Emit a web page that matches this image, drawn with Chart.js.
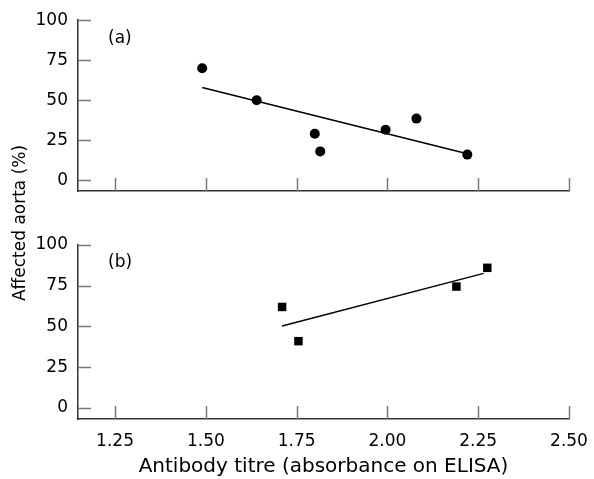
<!DOCTYPE html>
<html>
<head>
<meta charset="utf-8">
<script src="https://cdn.jsdelivr.net/npm/chart.js@4.4.1/dist/chart.umd.min.js"></script>
<style>
  html, body { margin: 0; padding: 0; background: #fff; }
  #wrap { position: relative; width: 594px; height: 479px; }
  #wrap canvas { position: absolute; left: 0; top: 0; }
</style>
</head>
<body>
<div id="wrap">
  <canvas id="chartA" width="594" height="479"></canvas>
  <canvas id="chartB" width="594" height="479"></canvas>
</div>
<script>
// Antibody titre vs affected aorta, two stacked panels

// --- Data ---
const titreA = [1.49, 1.64, 1.80, 1.815, 1.995, 2.08, 2.22];
const aortaA = [70, 50, 29, 18, 31.5, 38.5, 16];
const fitXA = [1.49, 2.22];
const fitYA = [58, 16.5];

const titreB = [1.71, 1.755, 2.19, 2.275];
const aortaB = [62, 41, 74.5, 86];
const fitXB = [1.71, 2.265];
const fitYB = [50.3, 82.6];

const xTicks = [1.25, 1.50, 1.75, 2.00, 2.25, 2.50];
const yTicks = [0, 25, 50, 75, 100];

const FONT = 'DejaVu Sans';
const axisColor = '#333';
const tickColor = '#777';
const textColor = '#000';

function pts(xs, ys) {
    return xs.map(function (x, i) { return { x: x, y: ys[i] }; });
}

// inward tick marks on both axes + panel label
function decorPlugin(label) {
    return {
        id: 'decor',
        afterDraw(chart) {
            const ctx = chart.ctx;
            const area = chart.chartArea;
            const xs = chart.scales.x;
            const ys = chart.scales.y;
            ctx.save();
            ctx.strokeStyle = tickColor;
            ctx.lineWidth = 1.5;
            ctx.beginPath();
            yTicks.forEach(function (v) {
                const y = Math.round(ys.getPixelForValue(v)) + 0.5;
                ctx.moveTo(area.left, y);
                ctx.lineTo(area.left + 13, y);
            });
            xTicks.forEach(function (v) {
                const x = Math.round(xs.getPixelForValue(v)) + 0.5;
                ctx.moveTo(x, area.bottom);
                ctx.lineTo(x, area.bottom - 13);
            });
            ctx.stroke();

            ctx.fillStyle = textColor;
            ctx.font = '17px "' + FONT + '"';
            ctx.textAlign = 'left';
            ctx.textBaseline = 'middle';
            ctx.fillText(label, area.left + 30, area.top + 18);
            ctx.restore();
        }
    };
}

// y title shared by both panels
const yTitlePlugin = {
    id: 'yTitle',
    afterDraw(chart) {
        const ctx = chart.ctx;
        ctx.save();
        ctx.translate(21, 223);
        ctx.rotate(-Math.PI / 2);
        ctx.fillStyle = textColor;
        ctx.font = '17px "' + FONT + '"';
        ctx.textAlign = 'center';
        ctx.textBaseline = 'middle';
        ctx.fillText('Affected aorta (%)', 0, 0);
        ctx.restore();
    }
};

function makeOptions(padTop, padBottom, showX, xHeight) {
    return {
        responsive: false,
        animation: false,
        layout: { padding: { top: padTop, bottom: padBottom, left: 0, right: 25 } },
        plugins: { legend: { display: false }, tooltip: { enabled: false } },
        scales: {
            x: {
                type: 'linear',
                min: 1.148,
                max: 2.5,
                afterBuildTicks: function (s) { s.ticks = xTicks.map(function (v) { return { value: v }; }); },
                afterFit: function (s) {
                    s.height = xHeight;
                    s.paddingLeft = 0;
                    s.paddingRight = 0;
                },
                grid: { display: false, drawTicks: false },
                border: { display: true, color: axisColor, width: 1.5 },
                ticks: {
                    display: showX,
                    padding: 12,
                    color: textColor,
                    font: { family: FONT, size: 17 },
                    callback: function (v) { return v.toFixed(2); }
                },
                title: {
                    display: showX,
                    text: 'Antibody titre (absorbance on ELISA)',
                    color: textColor,
                    font: { family: FONT, size: 20 },
                    padding: { top: 2, bottom: 0 }
                }
            },
            y: {
                type: 'linear',
                min: -6.75,
                max: 100,
                afterBuildTicks: function (s) { s.ticks = yTicks.map(function (v) { return { value: v }; }); },
                afterFit: function (s) { s.width = 78; },
                grid: { display: false, drawTicks: false },
                border: { display: true, color: axisColor, width: 1.5 },
                ticks: {
                    padding: 10,
                    color: textColor,
                    font: { family: FONT, size: 17 }
                }
            }
        }
    };
}

Chart.defaults.font.family = FONT;

new Chart(document.getElementById('chartA'), {
    type: 'scatter',
    data: {
        datasets: [
            {
                data: pts(titreA, aortaA),
                pointStyle: 'circle',
                pointRadius: 5,
                pointBackgroundColor: '#000',
                pointBorderWidth: 0
            },
            {
                type: 'line',
                data: pts(fitXA, fitYA),
                borderColor: '#000',
                borderWidth: 1.5,
                pointRadius: 0,
                fill: false
            }
        ]
    },
    options: makeOptions(17, 288, false, 0),
    plugins: [decorPlugin('(a)')]
});

new Chart(document.getElementById('chartB'), {
    type: 'scatter',
    data: {
        datasets: [
            {
                data: pts(titreB, aortaB),
                pointStyle: 'rect',
                pointRadius: 6,
                pointBackgroundColor: '#000',
                pointBorderWidth: 0
            },
            {
                type: 'line',
                data: pts(fitXB, fitYB),
                borderColor: '#000',
                borderWidth: 1.5,
                pointRadius: 0,
                fill: false
            }
        ]
    },
    options: makeOptions(245, 0, true, 60),
    plugins: [decorPlugin('(b)'), yTitlePlugin]
});
</script>
</body>
</html>
